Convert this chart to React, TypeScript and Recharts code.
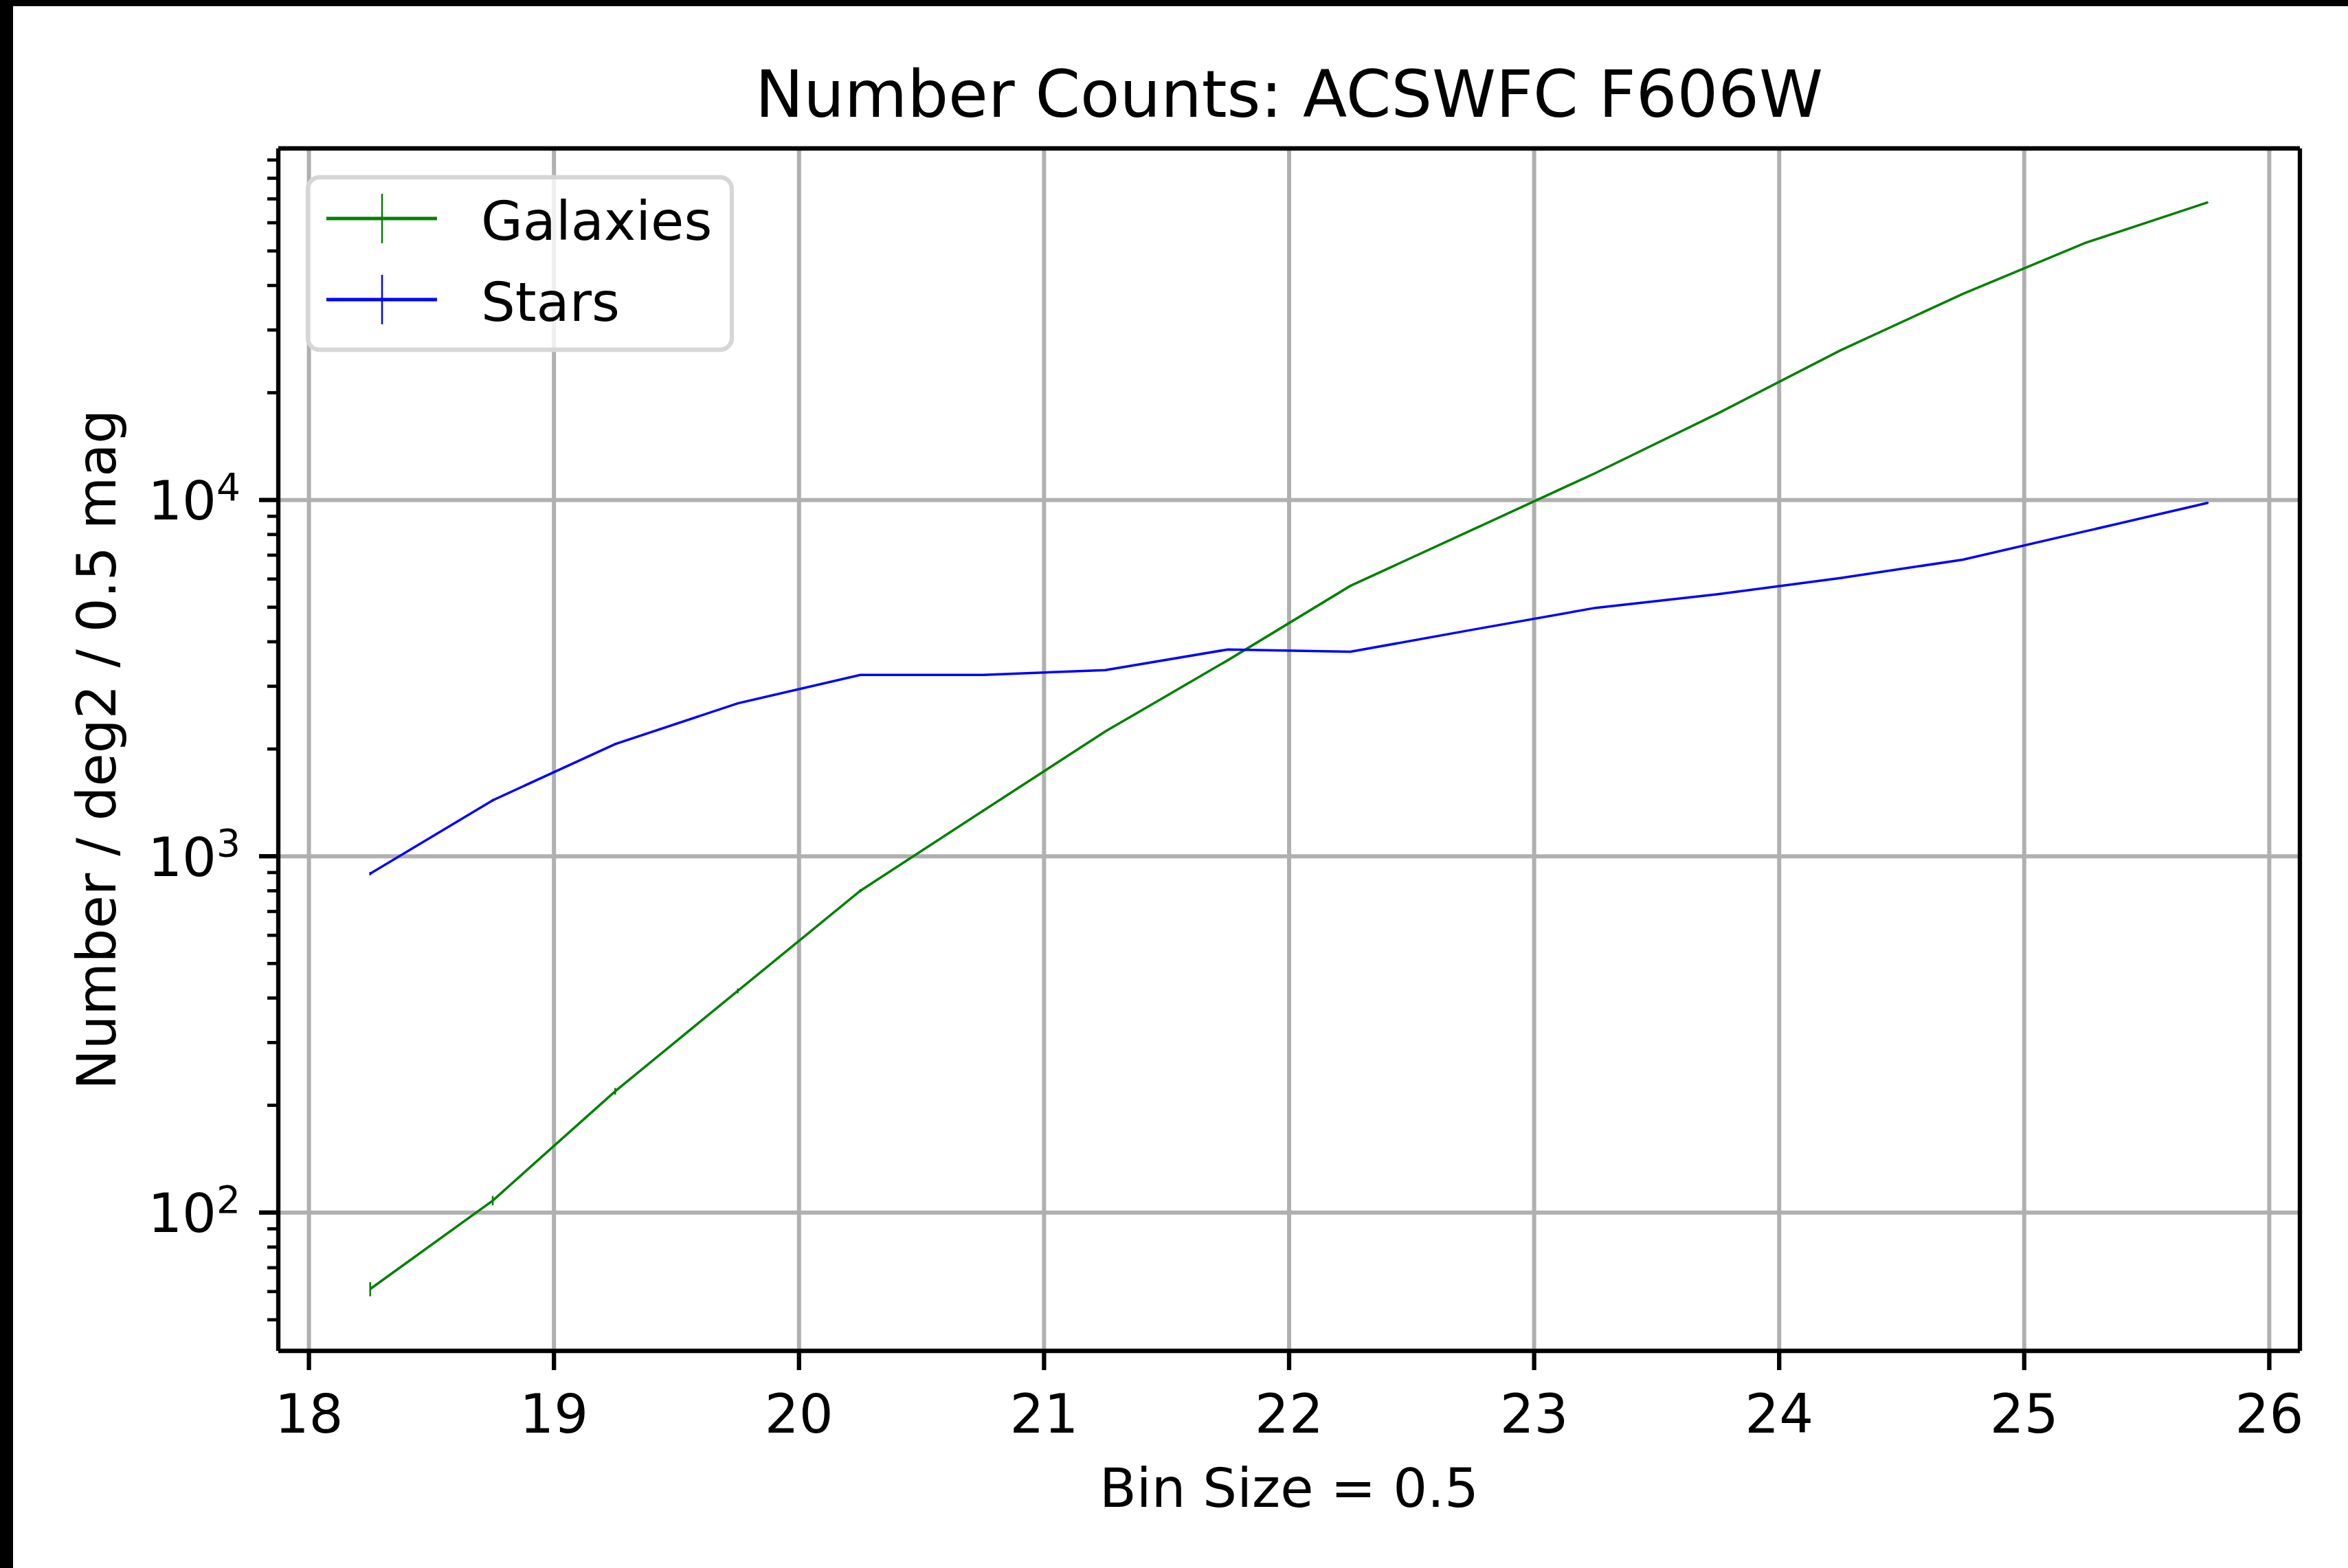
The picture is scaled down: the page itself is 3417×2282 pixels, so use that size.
import React from 'react';
import { LineChart, Line, XAxis, YAxis, ReferenceLine, ErrorBar, Legend } from 'recharts';

// ---- data ----
const magnitudes = [18.25, 18.75, 19.25, 19.75, 20.25, 20.75, 21.25, 21.75, 22.25, 22.75, 23.25, 23.75, 24.25, 24.75, 25.25, 25.75];
const galaxyCounts = [61, 108, 219, 419, 800, 1340, 2240, 3550, 5740, 8260, 11900, 17500, 26300, 37900, 52700, 68500];
const galaxyErrors = [2.8, 3.3, 4.7, 6.5, 8.9, 11.6, 15, 18.8, 24, 28.7, 34.5, 41.8, 51.3, 61.6, 72.6, 82.8];
const starCounts = [894, 1436, 2065, 2687, 3228, 3228, 3330, 3805, 3750, 4325, 4980, 5440, 6040, 6800, 8170, 9820];
const starErrors = [9.5, 12, 14.4, 16.4, 18, 18, 18.2, 19.5, 19.4, 20.8, 22.3, 23.3, 24.6, 26.1, 28.6, 31.3];

const xTicks = [18, 19, 20, 21, 22, 23, 24, 25, 26];
const yMajorTicks = [100, 1000, 10000];
const yMajorExponents = ['2', '3', '4'];
const yMinorTicks = [50, 60, 70, 80, 90, 200, 300, 400, 500, 600, 700, 800, 900, 2000, 3000, 4000, 5000, 6000, 7000, 8000, 9000, 20000, 30000, 40000, 50000, 60000, 70000, 80000, 90000];
const xDomain = [17.875, 26.125];
const yDomain = [40.9, 97000];

const seriesNames = ['Galaxies', 'Stars'];
const seriesColors = ['green', 'blue'];

const titleText = 'Number Counts: ACSWFC F606W';
const xLabelText = 'Bin Size = 0.5';
const yLabelText = 'Number / deg2 / 0.5 mag';

const data = magnitudes.map((m, i) => ({
  mag: m,
  galaxies: galaxyCounts[i],
  galErr: galaxyErrors[i],
  stars: starCounts[i],
  starErr: starErrors[i],
}));

// ---- layout ----
const W = 3417;
const H = 2282;
const PLOT_LEFT = 405;
const PLOT_RIGHT = 3347;
const PLOT_TOP = 216;
const PLOT_BOTTOM = 1966;
const FONT = 'DejaVu Sans, Verdana, sans-serif';
const FS = 78.5;
const SPINE = 6.3;
const MAJOR_TICK = 28;
const MINOR_TICK = 16;

const XTick = (props: any) => {
  const { x, y, payload } = props;
  return (
    <text x={x} y={y + 91} textAnchor="middle" fontFamily={FONT} fontSize={FS} fill="#000">
      {String(payload.value)}
    </text>
  );
};

const YTick = (props: any) => {
  const { x, y, payload } = props;
  const v = payload.value;
  const idx = yMajorTicks.indexOf(v);
  const axisX = x + MAJOR_TICK;
  if (idx < 0) {
    return (
      <line x1={axisX - MINOR_TICK} x2={axisX} y1={y} y2={y} stroke="#000" strokeWidth={4.7} />
    );
  }
  return (
    <g>
      <line x1={axisX - MAJOR_TICK} x2={axisX} y1={y} y2={y} stroke="#000" strokeWidth={SPINE} />
      <text x={x - 27} y={y + 28.6} textAnchor="end" fontFamily={FONT} fontSize={FS} fill="#000">
        <tspan>10</tspan>
        <tspan fontSize={FS * 0.7} dy={-28.6}>{yMajorExponents[idx]}</tspan>
      </text>
    </g>
  );
};

const LegendBox = () => {
  const w = 623;
  const h = 257;
  const rows = [63, 181];
  return (
    <svg width={w} height={h} style={{ display: 'block', overflow: 'visible' }}>
      <rect x={3} y={3} width={w - 6} height={h - 6} rx={17} ry={17} fill="rgba(255,255,255,0.8)" stroke="#d6d6d6" strokeWidth={6.3} />
      {seriesNames.map((name, i) => (
        <g key={name}>
          <line x1={30} x2={191} y1={rows[i]} y2={rows[i]} stroke={seriesColors[i]} strokeWidth={5} />
          <line x1={111} x2={111} y1={rows[i] - 36} y2={rows[i] + 36} stroke={seriesColors[i]} strokeWidth={2.5} />
          <text x={255} y={rows[i] + 31} fontFamily={FONT} fontSize={FS} fill="#000">{name}</text>
        </g>
      ))}
    </svg>
  );
};

export default function App() {
  return (
    <div style={{ position: 'relative', width: W, height: H, background: '#000', overflow: 'hidden' }}>
      <style>{'body{margin:0;}'}</style>
      <div style={{ position: 'absolute', left: 19, top: 9, right: 0, bottom: 0, background: '#fff' }} />
      <div style={{ position: 'absolute', left: 0, top: 0 }}>
        <LineChart
          width={W}
          height={H}
          data={data}
          margin={{ top: PLOT_TOP, right: W - PLOT_RIGHT, bottom: 0, left: 0 }}
        >
          <XAxis
            dataKey="mag"
            type="number"
            domain={xDomain}
            ticks={xTicks}
            allowDataOverflow
            height={H - PLOT_BOTTOM}
            tickSize={MAJOR_TICK}
            tickMargin={0}
            tickLine={{ stroke: '#000', strokeWidth: SPINE }}
            axisLine={{ stroke: '#000', strokeWidth: SPINE }}
            tick={<XTick />}
            interval={0}
          />
          <YAxis
            type="number"
            scale="log"
            domain={yDomain}
            allowDataOverflow
            ticks={[...yMajorTicks, ...yMinorTicks]}
            interval={0}
            width={PLOT_LEFT}
            tickSize={MAJOR_TICK}
            tickMargin={0}
            tickLine={false}
            axisLine={{ stroke: '#000', strokeWidth: SPINE }}
            tick={<YTick />}
          />
          {xTicks.map((t) => (
            <ReferenceLine key={'gx' + t} x={t} stroke="#b0b0b0" strokeWidth={6} />
          ))}
          {yMajorTicks.map((t) => (
            <ReferenceLine key={'gy' + t} y={t} stroke="#b0b0b0" strokeWidth={6} />
          ))}
          <Legend
            layout="vertical"
            verticalAlign="middle"
            align="center"
            content={() => <LegendBox />}
            wrapperStyle={{ position: 'absolute', left: 445, top: 255, width: 623, height: 257 }}
          />
          <Line
            dataKey="galaxies"
            name={seriesNames[0]}
            stroke={seriesColors[0]}
            strokeWidth={3.5}
            dot={false}
            activeDot={false}
            isAnimationActive={false}
            type="linear"
          >
            <ErrorBar dataKey="galErr" direction="y" width={0} stroke={seriesColors[0]} strokeWidth={2.5} isAnimationActive={false} />
          </Line>
          <Line
            dataKey="stars"
            name={seriesNames[1]}
            stroke={seriesColors[1]}
            strokeWidth={3.5}
            dot={false}
            activeDot={false}
            isAnimationActive={false}
            type="linear"
          >
            <ErrorBar dataKey="starErr" direction="y" width={0} stroke={seriesColors[1]} strokeWidth={2.5} isAnimationActive={false} />
          </Line>
          <ReferenceLine x={xDomain[1]} stroke="#000" strokeWidth={SPINE} ifOverflow="visible" />
          <ReferenceLine y={yDomain[1]} stroke="#000" strokeWidth={SPINE} ifOverflow="visible" />
        </LineChart>
      </div>
      <svg width={W} height={H} style={{ position: 'absolute', left: 0, top: 0, pointerEvents: 'none' }}>
        <text x={(PLOT_LEFT + PLOT_RIGHT) / 2} y={170} textAnchor="middle" fontFamily={FONT} fontSize={94} fill="#000">
          {titleText}
        </text>
        <text x={(PLOT_LEFT + PLOT_RIGHT) / 2} y={2193} textAnchor="middle" fontFamily={FONT} fontSize={FS} fill="#000">
          {xLabelText}
        </text>
        <text
          x={0}
          y={0}
          transform={`translate(168, ${(PLOT_TOP + PLOT_BOTTOM) / 2}) rotate(-90)`}
          textAnchor="middle"
          fontFamily={FONT}
          fontSize={FS}
          fill="#000"
        >
          {yLabelText}
        </text>
      </svg>
    </div>
  );
}
